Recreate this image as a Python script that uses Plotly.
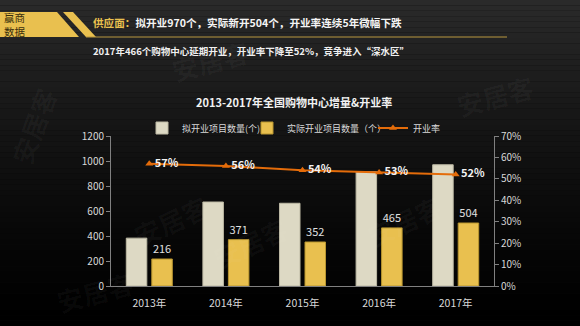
import plotly.graph_objects as go

years = ["2013年", "2014年", "2015年", "2016年", "2017年"]
planned = [383, 672, 662, 914, 970]
actual = [216, 371, 352, 465, 504]
rate = [0.57, 0.56, 0.54, 0.53, 0.52]

name_planned = "拟开业项目数量(个)"
name_actual = "实际开业项目数量（个）"
name_rate = "开业率"

header_key = "供应面："
header_rest = "拟开业970个，实际新开504个，开业率连续5年微幅下跌"
subtitle = "2017年466个购物中心延期开业，开业率下降至52%，竞争进入“深水区”"
chart_title = "2013-2017年全国购物中心增量&开业率"
logo_lines = ["赢商", "数据"]
watermark = "安居客"

W, H = 580, 326
L, R, T, B = 111, 494, 136, 286
FONT = "Noto Sans CJK SC"


def px(x):
    return (x - L) / (R - L)


def py(y):
    return (B - y) / (B - T)


fig = go.Figure()
fig.add_trace(go.Bar(
    x=years, y=planned, name=name_planned,
    marker=dict(color="#DDD9C4", line=dict(color="#BDB9A4", width=1)),
    yaxis="y", legend="legend",
))
fig.add_trace(go.Bar(
    x=years, y=actual, name=name_actual,
    marker=dict(color="#E9C04F", line=dict(color="#B8952F", width=1)),
    text=[str(v) for v in actual], textposition="outside",
    textfont=dict(color="#E0E0E0", size=11, family=FONT),
    cliponaxis=False, yaxis="y", legend="legend2",
))
fig.add_trace(go.Scatter(
    x=years, y=rate, name=name_rate, yaxis="y2", legend="legend3",
    mode="lines+markers+text",
    line=dict(color="#E46C0A", width=2),
    marker=dict(symbol="triangle-up", size=7, color="#E46C0A"),
    text=[f"<b>{round(v*100)}%</b>" for v in rate],
    textposition="middle right",
    textfont=dict(color="#F2F2F2", size=11, family=FONT),
    cliponaxis=False,
))

shapes = []
# background gradient
n = 60
for i in range(n):
    y0 = H * i / n
    y1 = H * (i + 1) / n
    t = (y0 + y1) / 2 / H
    c = max(0, int(round(42 * (1 - t) ** 1.4)))
    shapes.append(dict(type="rect", xref="paper", yref="paper",
                       x0=px(0), x1=px(W), y0=py(y1), y1=py(y0),
                       fillcolor=f"rgb({c},{c},{c})", line=dict(width=0), layer="below"))


def poly(points, color):
    d = "M " + " L ".join(f"{px(x)},{py(y)}" for x, y in points) + " Z"
    return dict(type="path", xref="paper", yref="paper", path=d,
                fillcolor=color, line=dict(width=0), layer="below")


shapes.append(poly([(0, 12), (57, 12), (79, 37), (0, 37)], "#E9C04F"))
shapes.append(poly([(63, 12), (73, 12), (96, 37), (86, 37)], "#E9C04F"))
shapes.append(dict(type="line", xref="paper", yref="paper",
                   x0=px(86), x1=px(507), y0=py(37), y1=py(37),
                   line=dict(color="#B8973F", width=1), layer="below"))

annotations = []
wm = [(0, 80, -70), (125, 185, -25), (250, 278, -25), (450, 220, -25), (540, 65, -15), (165, 30, -15), (50, 322, -15)]
for x, y, a in wm:
    annotations.append(dict(text=f"<b>{watermark}</b>", x=px(x), y=py(y), xref="paper", yref="paper",
                            showarrow=False, textangle=a,
                            font=dict(size=26, color="rgba(255,255,255,0.035)", family=FONT)))

annotations.append(dict(text="<br>".join(logo_lines), x=px(2), y=py(24.5), xref="paper", yref="paper",
                        xanchor="left", yanchor="middle", showarrow=False, align="left",
                        font=dict(size=10.5, color="#3A2E0C", family=FONT)))
annotations.append(dict(text=f"<b><span style='color:#E9C04F'>{header_key}</span>{header_rest}</b>",
                        x=px(91), y=py(23), xref="paper", yref="paper",
                        xanchor="left", yanchor="middle", showarrow=False,
                        font=dict(size=10.6, color="#F5F5F5", family=FONT)))
annotations.append(dict(text=f"<b>{subtitle}</b>",
                        x=px(91), y=py(51), xref="paper", yref="paper",
                        xanchor="left", yanchor="middle", showarrow=False,
                        font=dict(size=9.5, color="#F0F0F0", family=FONT)))
annotations.append(dict(text=f"<b>{chart_title}</b>",
                        x=px(294), y=py(102), xref="paper", yref="paper",
                        xanchor="center", yanchor="middle", showarrow=False,
                        font=dict(size=11, color="#F2F2F2", family=FONT)))

legend_common = dict(orientation="h", xanchor="left", yanchor="middle",
                     bgcolor="rgba(0,0,0,0)", font=dict(size=9, color="#D9D9D9", family=FONT),
                     itemwidth=30, tracegroupgap=0, traceorder="normal")

fig.update_layout(
    width=W, height=H,
    margin=dict(l=L, r=W - R, t=T, b=H - B, pad=0),
    paper_bgcolor="#0A0A0A",
    plot_bgcolor="rgba(0,0,0,0)",
    font=dict(family=FONT, color="#D9D9D9", size=10),
    barmode="group", bargap=0.334, bargroupgap=0.196,
    showlegend=True,
    legend=dict(x=px(182 - 40), y=py(128), **legend_common),
    legend2=dict(x=px(287 - 40), y=py(128), **legend_common),
    legend3=dict(x=px(413 - 40), y=py(128), **legend_common),
    xaxis=dict(showgrid=False, showline=True, linecolor="#808080", linewidth=1,
               ticks="", tickfont=dict(size=10.5, color="#D9D9D9"), zeroline=False,
               ticklabelstandoff=7, fixedrange=True),
    yaxis=dict(range=[0, 1200], dtick=200, showgrid=False, showline=True, linecolor="#808080",
               ticks="outside", ticklen=4, tickcolor="#808080",
               tickfont=dict(size=10, color="#D9D9D9"), zeroline=False),
    yaxis2=dict(range=[0, 0.7], dtick=0.1, tickformat=".0%", overlaying="y", side="right",
                showgrid=False, showline=True, linecolor="#808080",
                ticks="outside", ticklen=4, tickcolor="#808080",
                tickfont=dict(size=10, color="#D9D9D9"), zeroline=False),
    shapes=shapes,
    annotations=annotations,
)

fig.write_html("out.html")
